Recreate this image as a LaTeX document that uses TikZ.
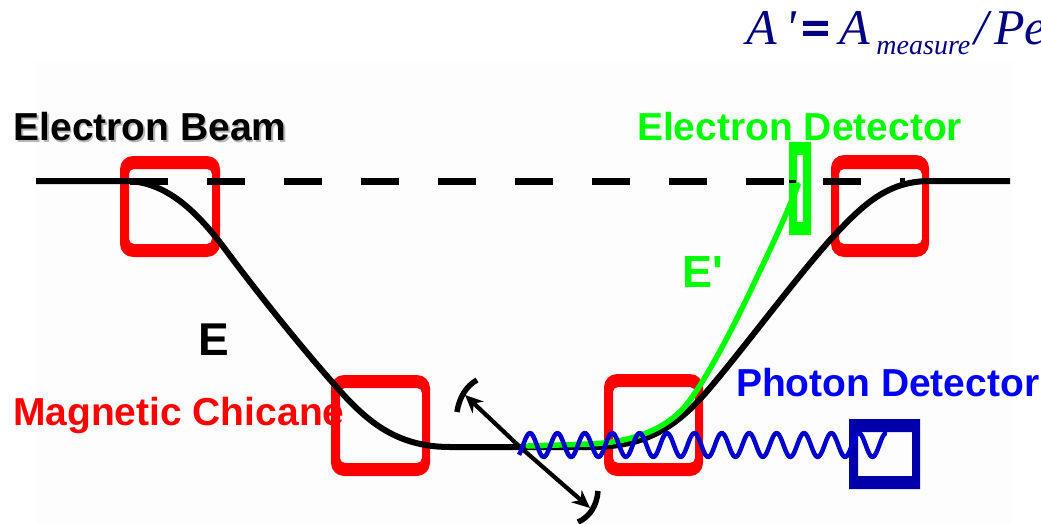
\documentclass[tikz,border=0pt]{standalone}
\usepackage{fontspec}
\usetikzlibrary{arrows.meta}
\setmainfont{Liberation Sans}
\newfontfamily\plainsans{Liberation Sans}
\newfontfamily\formulafont{Liberation Serif}
\definecolor{phblue}{RGB}{0,0,204}
\definecolor{boxblue}{RGB}{0,0,170}
\definecolor{fnavy}{RGB}{0,0,128}
\definecolor{offwhite}{RGB}{253,253,253}
\tikzset{
  x=1pt,y=-1pt,
  lbl/.style={anchor=base west,inner sep=0pt,outer sep=0pt,font=\fontsize{39}{39}\selectfont\bfseries},
  redbox/.style={fill={rgb,255:red,255;green,0;blue,0},even odd rule},
  beam/.style={draw=black,line width=6pt},
  dashbeam/.style={draw=black,line width=7pt,dash pattern=on 38pt off 39pt},
  arc/.style={draw=black,line width=5.5pt},
  arrowline/.style={draw=black,line width=4.2pt,-{Stealth[length=18pt,width=16pt]}},
}
\begin{document}
\begin{tikzpicture}
\useasboundingbox (0,0) rectangle (1041,524);
\fill[offwhite] (35,62) rectangle (1013,524);
% formula
\node[anchor=base west,inner sep=0pt,text=fnavy] (formula) at (746,45)
  {\formulafont\fontsize{50}{50}\selectfont\itshape A\kern9pt'\kern5pt{\upshape\bfseries\addfontfeature{FakeBold=3}=}\kern10pt A\kern6pt\raisebox{-10pt}{\fontsize{28}{28}\selectfont measure}\kern4pt/\kern6pt Pe};
% magnets
\path[redbox] [rounded corners=13pt] (120,156) rectangle (220,257) [rounded corners=5pt] (129,169) rectangle (212,244);
\path[redbox] [rounded corners=13pt] (331,375) rectangle (430,476) [rounded corners=5pt] (340,388) rectangle (422,463);
\path[redbox] [rounded corners=13pt] (604,374) rectangle (703,476) [rounded corners=5pt] (613,387) rectangle (695,463);
\path[redbox] [rounded corners=13pt] (831,155) rectangle (929,257) [rounded corners=5pt] (839,169) rectangle (922,244);
% electron detector
\path[fill={rgb,255:red,0;green,255;blue,0},even odd rule] (789,142) rectangle (811,235) (797,155) rectangle (803,222);
% straight beam
\draw[dashbeam] (130,181) -- (905,181);
\draw[draw=black,line width=3pt] (789,181) -- (796,181);
% chicane
\draw[beam,line cap=butt] (36,181) -- (125,181)
  .. controls (165,181) and (195,210) .. (222,245)
  .. controls (250,283) and (295,340) .. (333,383)
  .. controls (365,420) and (395,447) .. (450,447)
  -- (590,447)
  .. controls (640,447) and (670,432) .. (702,397)
  .. controls (735,360) and (790,285) .. (830,240)
  .. controls (860,208) and (885,181) .. (930,181)
  -- (1010,181);
% scattered electron
\draw[draw={rgb,255:red,0;green,255;blue,0},line width=5.5pt,line cap=round]
  (528,446) -- (590,444)
  .. controls (635,442) and (670,428) .. (690,400)
  .. controls (705,380) and (730,335) .. (757,277)
  .. controls (770,250) and (785,218) .. (798,185);
% Moller scattering arrows
\coordinate (vertex) at (520,447);
\coordinate (tipa) at (465,395);
\coordinate (tipb) at (590,508);
\draw[arrowline] (vertex) -- (tipa);
\draw[arrowline] (vertex) -- (tipb);
\draw[arc] (457,412) .. controls (459,398) and (466,386) .. (477,380);
\draw[arc] (598,491) .. controls (597,505) and (590,517) .. (578,522);
% photon
\path[fill=boxblue,even odd rule] (849,419) rectangle (920,489) (858,432) rectangle (912,476);
\draw[draw=phblue,line width=4.5pt,line join=round]
  plot[domain=519:887,samples=240] (\x,{445-12*cos((\x-530)/27.4*360)});
% labels
\node[lbl,text=black] (ebeam) at (13.5,141)
  {\makebox[0pt][l]{\kern1.5pt\raisebox{-1.5pt}{\color{black!28}Electron Beam}}Electron Beam};
\node[lbl,text={rgb,255:red,0;green,255;blue,0}] (edet) at (637,140.5) {Electron Detector};
\node[lbl,text={rgb,255:red,0;green,255;blue,0},font=\fontsize{45}{45}\selectfont\bfseries\plainsans] (eprime) at (682,287) {E'};
\node[lbl,text=black,font=\fontsize{46}{46}\selectfont\bfseries] (e) at (198.5,355) {E};
\node[lbl,text={rgb,255:red,255;green,0;blue,0}] (chicane) at (13,425.5) {Magnetic Chicane};
\node[lbl,text=blue] (pdet) at (736,396) {Photon Detector};
\end{tikzpicture}
\end{document}
